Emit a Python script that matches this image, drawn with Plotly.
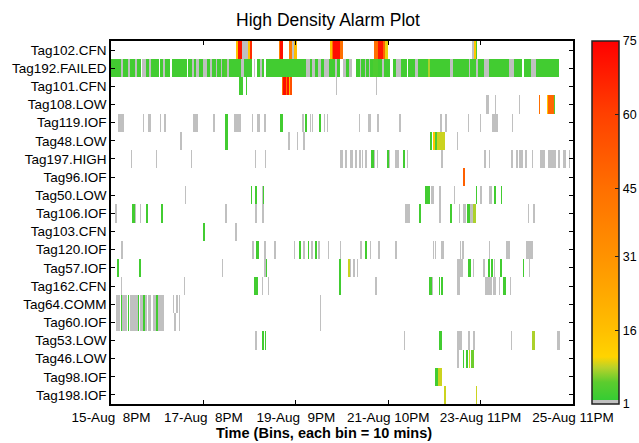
import numpy as np
import plotly.graph_objects as go

# ---------------- data ----------------
tags = ["Tag102.CFN", "Tag192.FAILED", "Tag101.CFN", "Tag108.LOW", "Tag119.IOF",
        "Tag48.LOW", "Tag197.HIGH", "Tag96.IOF", "Tag50.LOW", "Tag106.IOF",
        "Tag103.CFN", "Tag120.IOF", "Tag57.IOF", "Tag162.CFN", "Tag64.COMM",
        "Tag60.IOF", "Tag53.LOW", "Tag46.LOW", "Tag98.IOF", "Tag198.IOF"]

n_bins = 1450                      # 10-minute bins
tick_bins = [0, 290, 580, 870, 1160, 1450]
tick_labels = ["15-Aug\u00a0\u00a08PM", "17-Aug\u00a0\u00a08PM", "19-Aug\u00a0\u00a09PM",
               "21-Aug 10PM", "23-Aug 11PM", "25-Aug 11PM"]
cbar_ticks = [1, 16, 31, 45, 60, 75]

# alarm runs per tag: (first bin, end bin, alarm count)
tag102_cfn = [(392, 399, 14), (399, 411, 70), (411, 430, 1), (430, 436, 15), (436, 443, 65),
              (527, 530, 40), (530, 539, 72), (539, 541, 4), (559, 568, 40), (568, 575, 1),
              (575, 584, 16), (688, 693, 15), (693, 697, 45), (697, 719, 72), (719, 728, 45),
              (826, 839, 45), (839, 854, 70), (854, 861, 48), (861, 868, 10), (1134, 1140, 1),
              (1140, 1146, 14), (1146, 1149, 4)]
tag192_failed = [(0, 31, 3), (31, 38, 1), (38, 53, 3), (53, 60, 1), (60, 75, 3), (75, 82, 1),
                 (82, 94, 3), (97, 110, 1), (110, 119, 3), (119, 126, 1), (126, 151, 3),
                 (154, 163, 3), (163, 170, 1), (170, 185, 3), (192, 239, 3), (242, 254, 3),
                 (254, 261, 1), (261, 267, 3), (267, 276, 1), (276, 289, 3), (289, 301, 1),
                 (301, 311, 3), (311, 317, 1), (317, 330, 3), (330, 333, 1), (333, 345, 3),
                 (345, 348, 1), (348, 355, 3), (355, 364, 4), (364, 370, 1), (370, 408, 3),
                 (408, 418, 1), (418, 443, 3), (449, 452, 1), (458, 468, 3), (468, 474, 1),
                 (474, 480, 3), (487, 612, 3), (612, 625, 1), (625, 631, 3), (631, 641, 1),
                 (641, 650, 3), (650, 659, 1), (659, 669, 3), (669, 684, 1), (684, 703, 3),
                 (703, 710, 1), (710, 719, 3), (729, 738, 1), (738, 747, 3), (747, 757, 1),
                 (769, 782, 3), (782, 785, 1), (785, 797, 3), (797, 801, 1), (801, 810, 3),
                 (810, 813, 1), (813, 823, 3), (823, 838, 4), (838, 851, 3), (851, 857, 1),
                 (857, 876, 3), (885, 895, 3), (895, 911, 1), (911, 929, 3), (933, 954, 3),
                 (954, 964, 1), (964, 995, 3), (995, 1002, 8), (1002, 1064, 3), (1064, 1074, 1),
                 (1074, 1124, 3), (1124, 1127, 1), (1127, 1146, 3), (1146, 1152, 1),
                 (1152, 1171, 3), (1171, 1187, 1), (1187, 1250, 3), (1250, 1266, 1),
                 (1266, 1291, 3), (1297, 1319, 3), (1319, 1335, 1), (1335, 1407, 3)]
tag101_cfn = [(402, 415, 3), (425, 428, 3), (536, 540, 45), (540, 548, 72), (548, 552, 45),
              (552, 558, 70), (558, 563, 16), (563, 567, 55), (707, 710, 1), (832, 835, 1)]
tag108_low = [(1178, 1187, 1), (1206, 1209, 1), (1282, 1285, 1), (1342, 1346, 45),
              (1368, 1373, 14), (1373, 1390, 48), (1390, 1393, 5)]
tag119_iof = [(22, 41, 1), (100, 104, 1), (116, 125, 1), (155, 158, 1), (166, 172, 1),
              (257, 273, 1), (321, 326, 1), (359, 367, 3), (386, 409, 1), (444, 447, 1),
              (459, 467, 1), (480, 488, 1), (531, 540, 3), (598, 606, 1), (609, 614, 3),
              (625, 629, 1), (632, 635, 1), (654, 660, 3), (669, 672, 1), (677, 681, 1),
              (777, 780, 1), (808, 815, 1), (836, 842, 1), (903, 911, 1), (1033, 1038, 1),
              (1049, 1054, 1), (1121, 1125, 1), (1159, 1162, 1), (1195, 1214, 1), (1259, 1263, 1)]
tag48_low = [(218, 222, 1), (359, 367, 3), (557, 561, 1), (584, 587, 1), (604, 609, 1),
             (1002, 1006, 3), (1010, 1016, 14), (1016, 1023, 4), (1023, 1047, 9), (1085, 1090, 1)]
tag197_high = [(64, 67, 1), (140, 143, 1), (252, 255, 1), (452, 456, 1), (483, 487, 1),
               (719, 728, 1), (735, 740, 1), (750, 759, 1), (766, 771, 1), (777, 784, 1),
               (787, 790, 1), (798, 803, 1), (816, 825, 3), (825, 829, 1), (834, 839, 1),
               (866, 871, 3), (874, 877, 1), (892, 905, 1), (918, 923, 3), (928, 933, 1),
               (1035, 1042, 1), (1172, 1177, 1), (1185, 1190, 1), (1256, 1263, 1),
               (1270, 1277, 1), (1279, 1293, 1), (1298, 1305, 1), (1322, 1326, 1),
               (1347, 1361, 1), (1373, 1397, 1), (1404, 1410, 1), (1420, 1427, 1), (1436, 1441, 1)]
tag96_iof = [(1104, 1106, 4), (1106, 1111, 50)]
tag50_low = [(231, 234, 1), (439, 444, 3), (452, 457, 3), (473, 476, 1), (476, 480, 3),
             (986, 1000, 3), (1004, 1014, 1), (1030, 1035, 1), (1075, 1079, 1), (1144, 1149, 3),
             (1159, 1163, 1), (1185, 1196, 1), (1202, 1209, 3), (1223, 1228, 3)]
tag106_iof = [(14, 20, 1), (67, 74, 3), (74, 78, 1), (90, 93, 1), (110, 116, 3), (158, 164, 3),
              (358, 364, 1), (452, 457, 1), (475, 480, 1), (923, 937, 1), (967, 972, 3),
              (1031, 1035, 1), (1063, 1069, 3), (1091, 1096, 1), (1106, 1115, 1), (1118, 1127, 3),
              (1127, 1136, 1), (1136, 1146, 8), (1308, 1313, 1), (1324, 1330, 1)]
tag103_cfn = [(289, 294, 3), (389, 397, 1)]
tag120_iof = [(32, 37, 1), (443, 448, 1), (455, 465, 3), (481, 487, 1), (511, 517, 1),
              (575, 579, 1), (591, 597, 3), (604, 609, 1), (617, 622, 3), (629, 635, 1),
              (641, 646, 3), (651, 656, 1), (681, 685, 1), (719, 723, 1), (782, 787, 1),
              (798, 805, 3), (813, 816, 1), (839, 845, 1), (892, 897, 1), (1010, 1015, 1),
              (1017, 1020, 1), (1037, 1046, 1), (1094, 1099, 1), (1102, 1107, 1), (1185, 1190, 1),
              (1240, 1253, 1), (1303, 1324, 1)]
tag57_iof = [(20, 25, 3), (89, 94, 3), (349, 353, 1), (481, 486, 1), (486, 491, 3), (717, 722, 3),
             (745, 749, 9), (749, 753, 1), (761, 766, 1), (771, 775, 1), (1086, 1104, 1),
             (1122, 1130, 3), (1137, 1140, 1), (1169, 1173, 1), (1183, 1188, 3), (1192, 1199, 3),
             (1203, 1206, 1), (1220, 1226, 3), (1292, 1297, 3), (1312, 1316, 1)]
tag162_cfn = [(30, 35, 1), (228, 231, 1), (449, 462, 3), (473, 477, 1), (493, 497, 1),
              (717, 723, 3), (829, 834, 1), (999, 1006, 3), (1009, 1012, 1), (1028, 1033, 3),
              (1036, 1042, 3), (1085, 1094, 1), (1175, 1195, 1), (1200, 1207, 1), (1217, 1221, 1),
              (1230, 1239, 3), (1251, 1255, 1)]
tag64_comm = [(16, 28, 1), (30, 35, 3), (35, 50, 1), (54, 58, 3), (60, 84, 1), (84, 88, 3),
              (90, 100, 1), (101, 106, 3), (108, 112, 1), (116, 127, 1), (131, 140, 1),
              (142, 146, 3), (146, 150, 1), (150, 166, 1), (196, 199, 1), (205, 209, 1),
              (214, 217, 1), (657, 660, 1)]
tag60_iof = [(16, 28, 1), (30, 35, 3), (35, 50, 1), (54, 58, 3), (60, 84, 1), (84, 88, 3),
             (90, 100, 1), (101, 106, 3), (108, 112, 1), (116, 127, 1), (131, 140, 1),
             (142, 146, 3), (146, 150, 1), (150, 166, 1), (190, 193, 1), (199, 203, 1),
             (214, 217, 1), (657, 660, 1)]
tag53_low = [(452, 457, 1), (475, 480, 3), (482, 487, 3), (920, 924, 1), (1028, 1038, 3),
             (1086, 1102, 1), (1121, 1127, 1), (1136, 1142, 1), (1256, 1260, 1),
             (1321, 1330, 8), (1400, 1410, 1)]
tag46_low = [(1085, 1091, 1), (1104, 1109, 3), (1115, 1120, 3), (1123, 1127, 9), (1129, 1140, 6)]
tag98_iof = [(1017, 1025, 3), (1026, 1038, 9)]
tag198_iof = [(1046, 1051, 9), (1145, 1149, 9)]

row_runs = [tag102_cfn, tag192_failed, tag101_cfn, tag108_low, tag119_iof, tag48_low,
            tag197_high, tag96_iof, tag50_low, tag106_iof, tag103_cfn, tag120_iof,
            tag57_iof, tag162_cfn, tag64_comm, tag60_iof, tag53_low, tag46_low,
            tag98_iof, tag198_iof]

# ---------------- build grid ----------------
z = np.full((len(tags), n_bins), np.nan)
for r, runs in enumerate(row_runs):
    for a, b, v in runs:
        z[r, a:b] = v
bins = np.arange(n_bins) + 0.5

colorscale = [[0.0, "#c0c0c0"], [0.012, "#c0c0c0"], [0.012, "#36cc33"], [0.06, "#5ccc2e"],
              [0.10, "#b8d22a"], [0.13, "#ffd400"], [0.2, "#ffc000"], [0.4, "#ff9400"],
              [0.6, "#ff6e00"], [0.8, "#ff4000"], [1.0, "#ff0000"]]

font = "Liberation Sans, Arial, sans-serif"

fig = go.Figure(go.Heatmap(
    z=z, x=bins, y=tags, zmin=1, zmax=75, colorscale=colorscale,
    hoverongaps=False,
    colorbar=dict(
        x=(592 - 111) / 462, xanchor="left", xpad=0, ypad=0,
        y=0.5, yanchor="middle", len=1, lenmode="fraction",
        thickness=27, thicknessmode="pixels",
        outlinecolor="#222", outlinewidth=1.5,
        tickvals=cbar_ticks, ticks="inside", ticklen=4, tickcolor="#222",
        tickfont=dict(family=font, size=12.5, color="black"),
    ),
))

fig.update_layout(
    width=639, height=443,
    margin=dict(l=111, r=66, t=41, b=39, autoexpand=False),
    paper_bgcolor="white", plot_bgcolor="white",
    font=dict(family=font, color="black"),
    title=dict(text="High Density Alarm Plot", x=(328 - 111) / 462, xref="paper",
               xanchor="center", y=1 - 20 / 443, yanchor="middle",
               font=dict(size=17.5, family=font, color="black")),
    showlegend=False,
)
fig.update_xaxes(range=[0, n_bins], tickvals=tick_bins, ticktext=tick_labels,
                 ticks="inside", ticklen=4, tickcolor="black", showgrid=False, zeroline=False,
                 showline=True, linecolor="black", linewidth=1.5, mirror="ticks",
                 tickfont=dict(size=13.5, family=font, color="black"))
fig.update_yaxes(autorange="reversed", ticks="inside", ticklen=4, tickcolor="black",
                 showgrid=False, zeroline=False, showline=True, linecolor="black",
                 linewidth=1.5, mirror="ticks",
                 tickfont=dict(size=13.5, family=font, color="black"))

fig.add_annotation(text="<b>Time (Bins, each bin = 10 mins)</b>", xref="paper", yref="paper",
                   x=(324 - 111) / 462, y=-(433 - 404) / 363, xanchor="center", yanchor="middle",
                   showarrow=False, font=dict(size=14.5, family=font, color="black"))

fig.write_html("out.html", config={"displayModeBar": False},
               post_script="document.body.style.margin='0px';document.body.style.overflow='hidden';")
